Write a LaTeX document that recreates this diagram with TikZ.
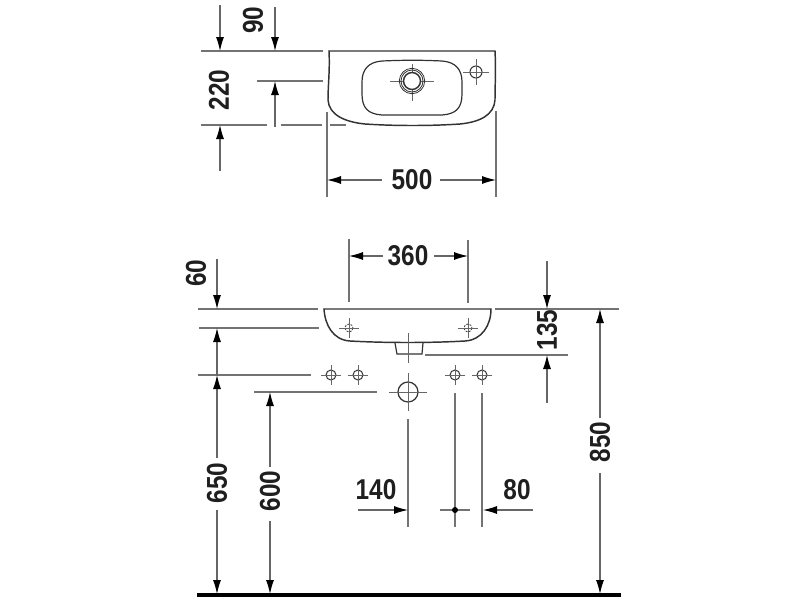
\documentclass[tikz,border=0pt]{standalone}
\usepackage{fontspec}
\setmainfont{Liberation Sans}
\usetikzlibrary{arrows.meta}
\tikzset{
  ext/.style={draw=black!55,line width=0.85pt},
  dim/.style={draw=black!60,line width=0.8pt,-{Latex[length=10.5pt,width=6pt,color=black]}},
  obj/.style={draw=black!80,line width=0.9pt},
  thin cross/.style={draw=black!60,line width=0.7pt},
  lbl/.style={font=\fontsize{21.5}{21.5}\selectfont\bfseries,text=black!88,inner sep=0pt,xscale=0.85}
}
\newcommand{\Hole}[4]{% x y radius arm
  \draw[obj,line width=0.75pt] (#1,#2) circle[radius=#3];
  \draw[thin cross] (#1-#4,#2)--(#1+#4,#2) (#1,#2-#4)--(#1,#2+#4);
}
\begin{document}
\begin{tikzpicture}[x=0.75pt,y=-0.75pt]
\useasboundingbox (0,0) rectangle (800,600);
\fill[white] (0,0) rectangle (800,600);
% --- plan view ---
\draw[ext] (201,51)--(323,51) (257,81)--(323,81) (201,125)--(267,125) (281,125)--(322,125) (330,125)--(346,125);
\draw[ext] (327,112)--(327,197) (496,111)--(496,197);
\draw[obj,line width=1.1pt] (329,51)--(495,51) .. controls (496,70) and (495,85) .. (495,100) .. controls (494,115) and (480,122) .. (460,124) .. controls (430,126) and (395,126) .. (365,124) .. controls (345,122) and (329,115) .. (328,100) .. controls (328,85) and (330,70) .. (329,51) -- cycle;
\draw[obj] (382,61) .. controls (405,60) and (420,60) .. (442,61) .. controls (456,62) and (462,70) .. (462,82) -- (462,94) .. controls (462,108) and (456,114) .. (442,115) -- (382,115) .. controls (368,114) and (362,108) .. (362,94) -- (362,82) .. controls (362,70) and (368,62) .. (382,61) -- cycle;
\draw[thin cross] (390,81)--(434,81) (412,64)--(412,101);
\fill[white] (412,81) circle[radius=8];
\draw[obj,line width=1.1pt] (412,81) circle[radius=8.5];
\draw[obj,line width=0.6pt] (412,81) circle[radius=11];
\draw[obj,line width=0.6pt] (412,81) circle[radius=12.7];
\Hole{476}{72}{6}{13}
\draw[dim] (220,5)--(220,51);
\draw[dim] (275,7)--(275,51);
\draw[dim] (275,127)--(275,81);
\draw[dim] (220,171)--(220,125);
\draw[dim] (382,180)--(327,180);
\draw[dim] (440,180)--(496,180);
\node[rotate=90,lbl] (t90) at (253,20) {90};
\node[rotate=90,lbl] (t220) at (219,90) {220};
\node[lbl] (t500) at (412,180) {500};
% --- front view ---
\draw[ext] (198,309)--(318,309) (199,328)--(319,328) (198,375)--(311,375) (254,392)--(377,392);
\draw[ext] (349,239)--(349,302) (468,240)--(468,303);
\draw[ext] (425,355)--(568,355) (495,309)--(619,309);
\draw[obj,line width=1.1pt] (324,309)--(491,309) .. controls (491,325) and (482,340) .. (465,341) .. controls (430,343) and (385,343) .. (350,341) .. controls (333,340) and (325,325) .. (324,309) -- cycle;
\draw[obj] (395,343)--(397,354)--(422,354)--(423,343);
\draw[thin cross] (408,333)--(408,363);
\draw[obj,dash pattern=on 1.5pt off 1pt,line width=0.6pt] (349,328) circle[radius=4];
\draw[obj,dash pattern=on 1.5pt off 1pt,line width=0.6pt] (468,328) circle[radius=4];
\draw[thin cross] (339,328)--(359,328) (349,318)--(349,338) (458,328)--(478,328) (468,318)--(468,338);
\Hole{331}{375}{5}{10}
\Hole{358}{375}{5}{10}
\Hole{455}{375}{5}{10}
\Hole{482}{375}{5}{10}
\draw[obj] (408,392) circle[radius=10];
\draw[thin cross] (389,392)--(427,392) (408,373)--(408,411);
\draw[ext] (408,419)--(408,527) (455,393)--(455,527) (482,393)--(482,527);
\draw[ext] (440,510)--(470,510);
\fill[black] (455,510) circle[radius=3];
\draw[dim] (217,259)--(217,309);
\draw[dim] (217,375)--(217,328);
\draw[dim] (217,458)--(217,375);
\draw[dim] (217,510)--(217,594);
\draw[dim] (270,467)--(270,392);
\draw[dim] (270,521)--(270,594);
\draw[dim] (383,256)--(349,256);
\draw[dim] (434,256)--(468,256);
\draw[dim] (547,261)--(547,309);
\draw[dim] (547,403)--(547,355);
\draw[dim] (600,418)--(600,309);
\draw[dim] (600,473)--(600,594);
\draw[dim] (358,510)--(408,510);
\draw[dim] (533,510)--(483,510);
\draw[draw=black,line width=3pt] (197,595)--(621,595);
\node[rotate=90,lbl] (t60) at (196,273) {60};
\node[lbl] (t360) at (408,256) {360};
\node[rotate=90,lbl] (t135) at (547,330) {135};
\node[rotate=90,lbl] (t850) at (600,442) {850};
\node[rotate=90,lbl] (t650) at (217,483) {650};
\node[rotate=90,lbl] (t600) at (270,491) {600};
\node[lbl] (t140) at (376,490) {140};
\node[lbl] (t80) at (517,490) {80};
\end{tikzpicture}
\end{document}
